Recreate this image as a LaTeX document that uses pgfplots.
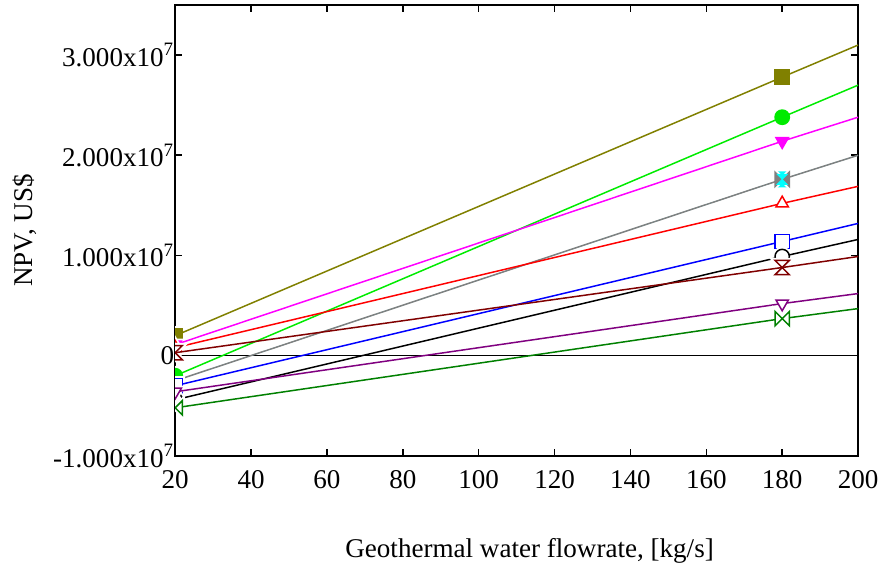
\documentclass[border=0pt]{standalone}
\usepackage{pgfplots}
\pgfplotsset{compat=1.18}
\usepackage{fontspec}
\setmainfont{Liberation Serif}
\definecolor{colive}{RGB}{128,128,0}
\definecolor{clime}{RGB}{0,235,0}
\definecolor{cmag}{RGB}{255,0,255}
\definecolor{cgray}{RGB}{128,128,128}
\definecolor{ccyan}{RGB}{0,255,255}
\definecolor{cred}{RGB}{255,0,0}
\definecolor{cblue}{RGB}{0,0,255}
\definecolor{cdred}{RGB}{128,0,0}
\definecolor{cpurp}{RGB}{128,0,128}
\definecolor{cdgreen}{RGB}{0,128,0}
\pgfdeclareplotmark{bowtie}{%
  \pgfpathmoveto{\pgfqpoint{-\pgfplotmarksize}{-\pgfplotmarksize}}%
  \pgfpathlineto{\pgfqpoint{0pt}{0pt}}%
  \pgfpathlineto{\pgfqpoint{-\pgfplotmarksize}{\pgfplotmarksize}}%
  \pgfpathclose
  \pgfpathmoveto{\pgfqpoint{\pgfplotmarksize}{-\pgfplotmarksize}}%
  \pgfpathlineto{\pgfqpoint{0pt}{0pt}}%
  \pgfpathlineto{\pgfqpoint{\pgfplotmarksize}{\pgfplotmarksize}}%
  \pgfpathclose
  \pgfusepathqfillstroke}
\pgfdeclareplotmark{hourglass}{%
  \pgfpathmoveto{\pgfqpoint{-\pgfplotmarksize}{\pgfplotmarksize}}%
  \pgfpathlineto{\pgfqpoint{\pgfplotmarksize}{\pgfplotmarksize}}%
  \pgfpathlineto{\pgfqpoint{0pt}{0pt}}%
  \pgfpathclose
  \pgfpathmoveto{\pgfqpoint{-\pgfplotmarksize}{-\pgfplotmarksize}}%
  \pgfpathlineto{\pgfqpoint{\pgfplotmarksize}{-\pgfplotmarksize}}%
  \pgfpathlineto{\pgfqpoint{0pt}{0pt}}%
  \pgfpathclose
  \pgfusepathqfillstroke}
\pgfplotsset{
  ser/.style n args={3}{color=#1, line width=0.75pt, mark=#2, mark indices={1,2},
    mark options={solid, fill=#3, draw=#1, line width=0.75pt}},
  halo/.style={only marks, mark=#1, mark indices={1,2}, white,
    mark options={fill=white, draw=white, line width=2.6pt}, forget plot},
  flip/.style={every mark/.append style={rotate=180}},
}
\begin{document}
\begin{tikzpicture}
\begin{axis}[
  scale only axis, width=343pt, height=226.5pt,
  xmin=20, xmax=200, ymin=-1, ymax=3.5,
  xtick={20,40,...,200},
  ytick={-1,0,1,2,3},
  yticklabels={-1.000x10\textsuperscript{7},0,1.000x10\textsuperscript{7},2.000x10\textsuperscript{7},3.000x10\textsuperscript{7}},
  /pgf/number format/assume math mode=true,
  tick label style={font=\fontsize{13.6}{15}\selectfont},
  label style={font=\fontsize{13.6}{15}\selectfont},
  tick align=inside, major tick length=3.5pt,
  axis line style={line width=1pt}, every tick/.style={black, line width=0.8pt},
  clip marker paths=true,
  mark size=3.6pt,
  xlabel={Geothermal water flowrate, [kg/s]},
  ylabel={NPV, US\$},
  xlabel style={at={(axis description cs:0.5,0)}, anchor=center, yshift=-47.5pt, xshift=6.5pt},
  ylabel style={at={(axis description cs:0,0.5)}, anchor=center, yshift=75.5pt},
  yticklabel style={xshift=3pt},
  xticklabel style={yshift=-4pt},
]
\addplot[black, line width=0.5pt, forget plot] coordinates {(20,0) (200,0)};
% cyan (under gray)
\addplot[ser={ccyan}{hourglass}{ccyan}, line width=0.3pt] coordinates {(20,-0.25) (180,1.76) (200,2.00)};
% gray
\addplot[halo=bowtie] coordinates {(20,-0.25) (180,1.76) (200,2.00)};
\addplot[ser={cgray}{bowtie}{cgray}] coordinates {(20,-0.25) (180,1.76) (200,2.00)};
\addplot[only marks, mark=hourglass, mark indices={2}, mark size=2.6pt, mark options={fill=ccyan, draw=ccyan, line width=0.4pt}, forget plot] coordinates {(20,-0.25) (180,1.76) (200,2.00)};
% olive
\addplot[halo=square*] coordinates {(20,0.20) (180,2.78) (200,3.10)};
\addplot[ser={colive}{square*}{colive}] coordinates {(20,0.20) (180,2.78) (200,3.10)};
% lime
\addplot[halo=*] coordinates {(20,-0.20) (180,2.38) (200,2.70)};
\addplot[ser={clime}{*}{clime}] coordinates {(20,-0.20) (180,2.38) (200,2.70)};
% magenta
\addplot[halo=triangle*, flip] coordinates {(20,0.11) (180,2.14) (200,2.38)};
\addplot[ser={cmag}{triangle*}{cmag}, flip] coordinates {(20,0.11) (180,2.14) (200,2.38)};
% red
\addplot[halo=triangle*] coordinates {(20,0.08) (180,1.52) (200,1.69)};
\addplot[ser={cred}{triangle*}{white}] coordinates {(20,0.08) (180,1.52) (200,1.69)};
% blue
\addplot[halo=square*] coordinates {(20,-0.30) (180,1.14) (200,1.32)};
\addplot[ser={cblue}{square*}{white}] coordinates {(20,-0.30) (180,1.14) (200,1.32)};
% black
\addplot[halo=*] coordinates {(20,-0.44) (180,0.99) (200,1.16)};
\addplot[ser={black}{*}{white}] coordinates {(20,-0.44) (180,0.99) (200,1.16)};
% dark red
\addplot[halo=hourglass] coordinates {(20,0.03) (180,0.88) (200,0.99)};
\addplot[ser={cdred}{hourglass}{white}] coordinates {(20,0.03) (180,0.88) (200,0.99)};
% purple
\addplot[halo=triangle*, flip] coordinates {(20,-0.36) (180,0.52) (200,0.62)};
\addplot[ser={cpurp}{triangle*}{white}, flip] coordinates {(20,-0.36) (180,0.52) (200,0.62)};
% dark green
\addplot[halo=bowtie] coordinates {(20,-0.52) (180,0.37) (200,0.47)};
\addplot[ser={cdgreen}{bowtie}{white}] coordinates {(20,-0.52) (180,0.37) (200,0.47)};
\end{axis}
\path (current axis.south west) ++(-88pt,-56pt) coordinate (bl);
\path (current axis.north east) ++(11.5pt,2.5pt) coordinate (tr);
\path[use as bounding box] (bl) rectangle (tr);
\end{tikzpicture}
\end{document}
